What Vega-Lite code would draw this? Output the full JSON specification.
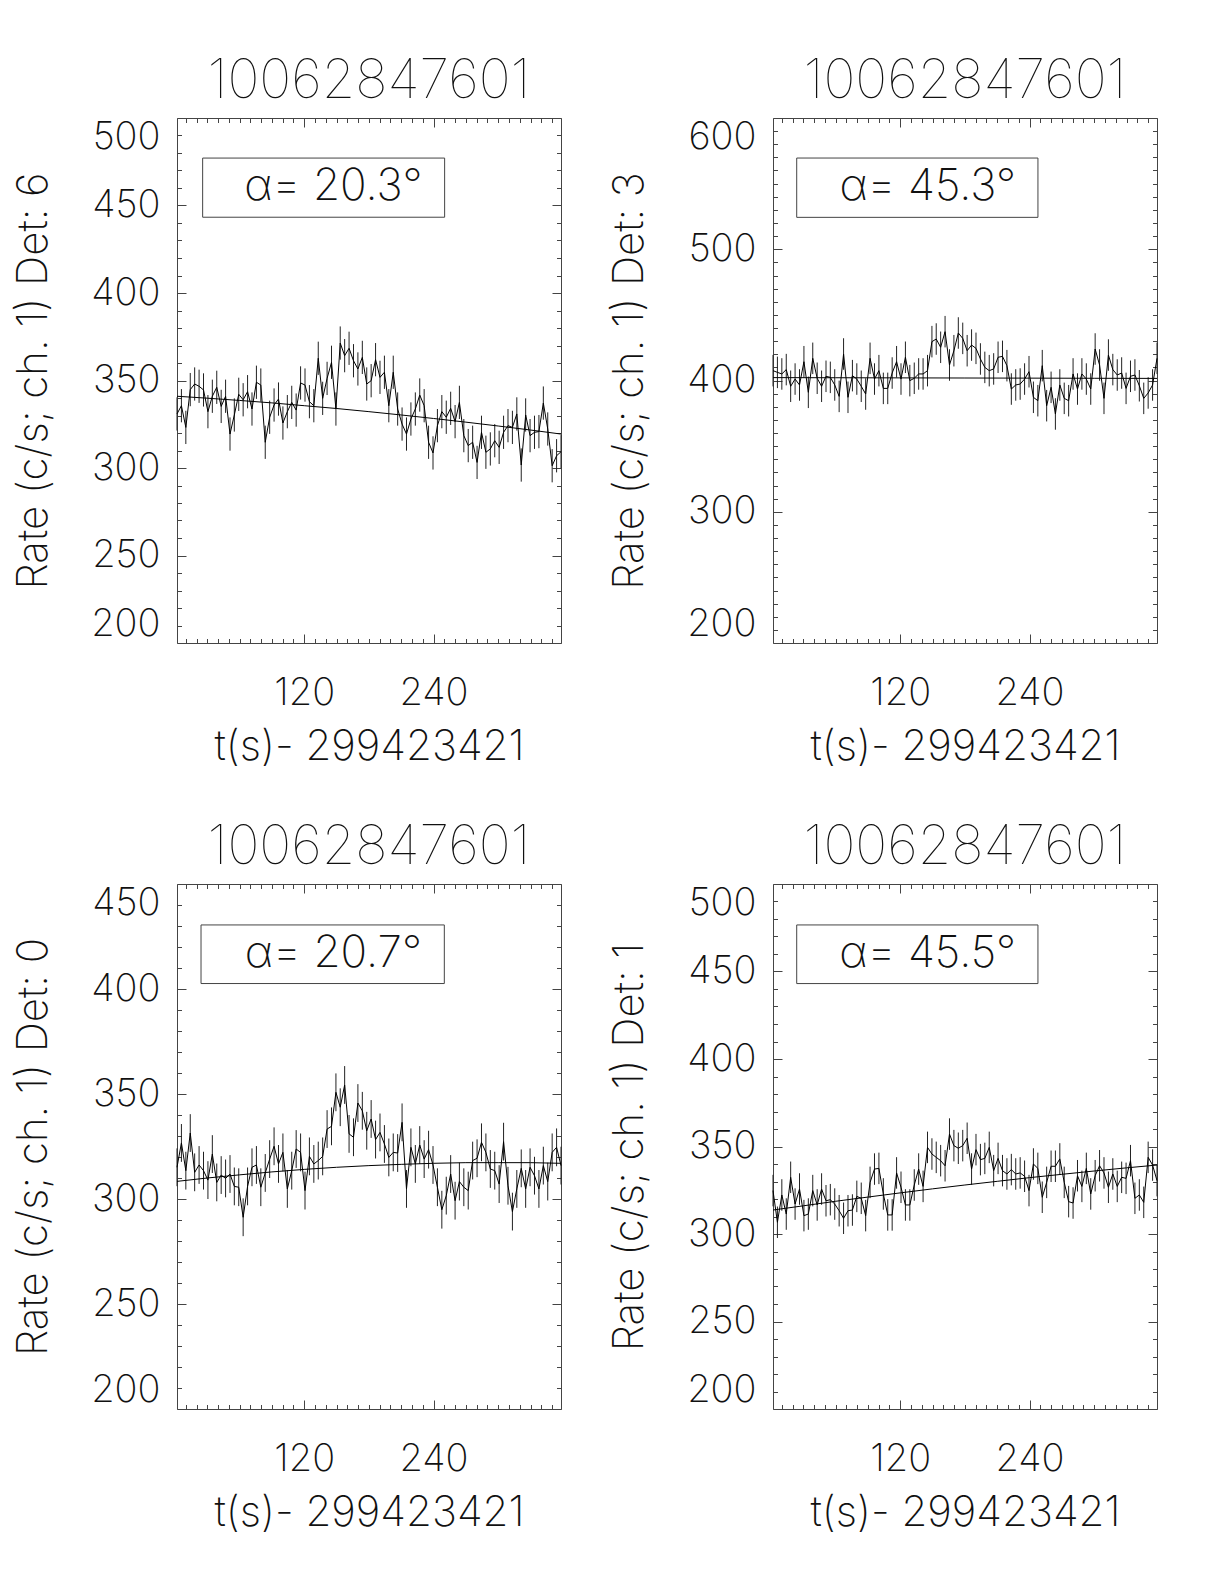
{
"$schema": "https://vega.github.io/schema/vega-lite/v6.json",
"padding": {"left": 12, "top": 54, "right": 5, "bottom": 5},
"background": "white",
"datasets": {
"lc6": [{"t":1.9,"r":330.9,"e":9.5},{"t":6.0,"r":335.6,"e":9.5},{"t":10.1,"r":323.2,"e":9.5},{"t":14.2,"r":344.8,"e":9.5},{"t":18.3,"r":348.0,"e":9.5},{"t":22.4,"r":346.7,"e":9.5},{"t":26.5,"r":344.6,"e":9.5},{"t":30.6,"r":332.2,"e":9.5},{"t":34.7,"r":341.0,"e":9.5},{"t":38.8,"r":346.1,"e":9.5},{"t":42.9,"r":335.2,"e":9.5},{"t":47.0,"r":341.0,"e":9.5},{"t":51.1,"r":319.4,"e":9.5},{"t":55.1,"r":330.3,"e":9.5},{"t":59.2,"r":342.1,"e":9.5},{"t":63.3,"r":339.0,"e":9.5},{"t":67.4,"r":343.6,"e":9.5},{"t":71.5,"r":333.7,"e":9.5},{"t":75.6,"r":349.0,"e":9.5},{"t":79.7,"r":347.4,"e":9.5},{"t":83.8,"r":314.7,"e":9.5},{"t":87.9,"r":329.0,"e":9.5},{"t":92.0,"r":336.0,"e":9.5},{"t":96.1,"r":339.4,"e":9.5},{"t":100.2,"r":325.7,"e":9.5},{"t":104.3,"r":332.2,"e":9.5},{"t":108.4,"r":337.5,"e":9.5},{"t":112.5,"r":333.1,"e":9.5},{"t":116.6,"r":348.6,"e":9.5},{"t":120.7,"r":347.4,"e":9.5},{"t":124.8,"r":337.9,"e":9.5},{"t":128.9,"r":335.6,"e":9.5},{"t":133.0,"r":362.7,"e":9.5},{"t":137.1,"r":339.8,"e":9.5},{"t":141.2,"r":351.2,"e":9.5},{"t":145.3,"r":360.4,"e":9.5},{"t":149.4,"r":333.7,"e":9.5},{"t":153.4,"r":371.4,"e":9.5},{"t":157.5,"r":364.2,"e":9.5},{"t":161.6,"r":368.4,"e":9.5},{"t":165.7,"r":361.3,"e":9.5},{"t":169.8,"r":356.6,"e":9.5},{"t":173.9,"r":363.2,"e":9.5},{"t":178.0,"r":348.0,"e":9.5},{"t":182.1,"r":349.9,"e":9.5},{"t":186.2,"r":361.9,"e":9.5},{"t":190.3,"r":351.8,"e":9.5},{"t":194.4,"r":354.7,"e":9.5},{"t":198.5,"r":335.6,"e":9.5},{"t":202.6,"r":354.7,"e":9.5},{"t":206.7,"r":333.7,"e":9.5},{"t":210.8,"r":325.1,"e":9.5},{"t":214.9,"r":319.4,"e":9.5},{"t":219.0,"r":328.0,"e":9.5},{"t":223.1,"r":333.7,"e":9.5},{"t":227.2,"r":341.7,"e":9.5},{"t":231.3,"r":335.6,"e":9.5},{"t":235.4,"r":314.7,"e":9.5},{"t":239.5,"r":308.6,"e":9.5},{"t":243.6,"r":324.2,"e":9.5},{"t":247.7,"r":332.2,"e":9.5},{"t":251.8,"r":329.0,"e":9.5},{"t":255.9,"r":334.1,"e":9.5},{"t":260.0,"r":326.5,"e":9.5},{"t":264.0,"r":337.5,"e":9.5},{"t":268.1,"r":318.5,"e":9.5},{"t":272.2,"r":312.8,"e":9.5},{"t":276.3,"r":314.7,"e":9.5},{"t":280.4,"r":303.2,"e":9.5},{"t":284.5,"r":320.4,"e":9.5},{"t":288.6,"r":309.0,"e":9.5},{"t":292.7,"r":310.9,"e":9.5},{"t":296.8,"r":315.6,"e":9.5},{"t":300.9,"r":311.8,"e":9.5},{"t":305.0,"r":320.4,"e":9.5},{"t":309.1,"r":324.2,"e":9.5},{"t":313.2,"r":323.2,"e":9.5},{"t":317.3,"r":330.9,"e":9.5},{"t":321.4,"r":301.7,"e":9.5},{"t":325.5,"r":330.3,"e":9.5},{"t":329.6,"r":318.5,"e":9.5},{"t":333.7,"r":320.4,"e":9.5},{"t":337.8,"r":320.8,"e":9.5},{"t":341.9,"r":337.1,"e":9.5},{"t":346.0,"r":322.3,"e":9.5},{"t":350.1,"r":301.3,"e":9.5},{"t":354.2,"r":307.0,"e":9.5},{"t":358.3,"r":309.3,"e":9.5}],
"lc3": [{"t":1.9,"r":407.5,"e":12},{"t":6.0,"r":406.2,"e":12},{"t":10.1,"r":405.0,"e":12},{"t":14.2,"r":408.3,"e":12},{"t":18.3,"r":395.6,"e":12},{"t":22.4,"r":401.1,"e":12},{"t":26.5,"r":396.6,"e":12},{"t":30.6,"r":414.3,"e":12},{"t":34.7,"r":391.0,"e":12},{"t":38.8,"r":416.9,"e":12},{"t":42.9,"r":401.7,"e":12},{"t":47.0,"r":395.6,"e":12},{"t":51.1,"r":403.2,"e":12},{"t":55.1,"r":402.4,"e":12},{"t":59.2,"r":396.6,"e":12},{"t":63.3,"r":387.9,"e":12},{"t":67.4,"r":420.2,"e":12},{"t":71.5,"r":387.2,"e":12},{"t":75.6,"r":403.7,"e":12},{"t":79.7,"r":401.1,"e":12},{"t":83.8,"r":395.6,"e":12},{"t":87.9,"r":389.7,"e":12},{"t":92.0,"r":416.9,"e":12},{"t":96.1,"r":401.1,"e":12},{"t":100.2,"r":407.5,"e":12},{"t":104.3,"r":394.0,"e":12},{"t":108.4,"r":394.0,"e":12},{"t":112.5,"r":405.7,"e":12},{"t":116.6,"r":414.3,"e":12},{"t":120.7,"r":401.1,"e":12},{"t":124.8,"r":417.7,"e":12},{"t":128.9,"r":399.9,"e":12},{"t":133.0,"r":401.7,"e":12},{"t":137.1,"r":405.0,"e":12},{"t":141.2,"r":405.0,"e":12},{"t":145.3,"r":407.5,"e":12},{"t":149.4,"r":429.6,"e":12},{"t":153.4,"r":431.6,"e":12},{"t":157.5,"r":425.3,"e":12},{"t":161.6,"r":437.2,"e":12},{"t":165.7,"r":411.8,"e":12},{"t":169.8,"r":422.7,"e":12},{"t":173.9,"r":436.2,"e":12},{"t":178.0,"r":432.1,"e":12},{"t":182.1,"r":422.7,"e":12},{"t":186.2,"r":427.0,"e":12},{"t":190.3,"r":424.5,"e":12},{"t":194.4,"r":416.4,"e":12},{"t":198.5,"r":410.0,"e":12},{"t":202.6,"r":407.5,"e":12},{"t":206.7,"r":408.8,"e":12},{"t":210.8,"r":417.7,"e":12},{"t":214.9,"r":418.4,"e":12},{"t":219.0,"r":411.3,"e":12},{"t":223.1,"r":393.5,"e":12},{"t":227.2,"r":396.6,"e":12},{"t":231.3,"r":397.3,"e":12},{"t":235.4,"r":401.1,"e":12},{"t":239.5,"r":406.7,"e":12},{"t":243.6,"r":387.2,"e":12},{"t":247.7,"r":384.6,"e":12},{"t":251.8,"r":411.3,"e":12},{"t":255.9,"r":380.8,"e":12},{"t":260.0,"r":394.8,"e":12},{"t":264.0,"r":374.5,"e":12},{"t":268.1,"r":396.6,"e":12},{"t":272.2,"r":386.4,"e":12},{"t":276.3,"r":384.6,"e":12},{"t":280.4,"r":405.0,"e":12},{"t":284.5,"r":393.5,"e":12},{"t":288.6,"r":405.0,"e":12},{"t":292.7,"r":401.1,"e":12},{"t":296.8,"r":393.5,"e":12},{"t":300.9,"r":424.0,"e":12},{"t":305.0,"r":411.8,"e":12},{"t":309.1,"r":386.4,"e":12},{"t":313.2,"r":419.4,"e":12},{"t":317.3,"r":408.3,"e":12},{"t":321.4,"r":404.2,"e":12},{"t":325.5,"r":405.7,"e":12},{"t":329.6,"r":394.0,"e":12},{"t":333.7,"r":403.2,"e":12},{"t":337.8,"r":404.2,"e":12},{"t":341.9,"r":396.0,"e":12},{"t":346.0,"r":386.4,"e":12},{"t":350.1,"r":390.5,"e":12},{"t":354.2,"r":396.6,"e":12},{"t":358.3,"r":416.9,"e":12}],
"lc0": [{"t":1.9,"r":315.1,"e":9},{"t":6.0,"r":326.7,"e":9},{"t":10.1,"r":313.5,"e":9},{"t":14.2,"r":331.4,"e":9},{"t":18.3,"r":312.7,"e":9},{"t":22.4,"r":316.2,"e":9},{"t":26.5,"r":313.5,"e":9},{"t":30.6,"r":309.0,"e":9},{"t":34.7,"r":321.4,"e":9},{"t":38.8,"r":307.9,"e":9},{"t":42.9,"r":311.4,"e":9},{"t":47.0,"r":309.8,"e":9},{"t":51.1,"r":311.9,"e":9},{"t":55.1,"r":306.0,"e":9},{"t":59.2,"r":305.6,"e":9},{"t":63.3,"r":291.3,"e":9},{"t":67.4,"r":306.0,"e":9},{"t":71.5,"r":315.1,"e":9},{"t":75.6,"r":316.2,"e":9},{"t":79.7,"r":305.6,"e":9},{"t":83.8,"r":312.4,"e":9},{"t":87.9,"r":319.0,"e":9},{"t":92.0,"r":325.1,"e":9},{"t":96.1,"r":316.7,"e":9},{"t":100.2,"r":322.2,"e":9},{"t":104.3,"r":304.8,"e":9},{"t":108.4,"r":313.5,"e":9},{"t":112.5,"r":323.8,"e":9},{"t":116.6,"r":322.2,"e":9},{"t":120.7,"r":304.0,"e":9},{"t":124.8,"r":320.3,"e":9},{"t":128.9,"r":316.7,"e":9},{"t":133.0,"r":318.3,"e":9},{"t":137.1,"r":320.3,"e":9},{"t":141.2,"r":333.3,"e":9},{"t":145.3,"r":334.6,"e":9},{"t":149.4,"r":350.8,"e":9},{"t":153.4,"r":343.7,"e":9},{"t":157.5,"r":354.3,"e":9},{"t":161.6,"r":331.0,"e":9},{"t":165.7,"r":329.4,"e":9},{"t":169.8,"r":345.7,"e":9},{"t":173.9,"r":342.0,"e":9},{"t":178.0,"r":332.5,"e":9},{"t":182.1,"r":338.1,"e":9},{"t":186.2,"r":328.3,"e":9},{"t":190.3,"r":331.7,"e":9},{"t":194.4,"r":326.2,"e":9},{"t":198.5,"r":319.8,"e":9},{"t":202.6,"r":322.2,"e":9},{"t":206.7,"r":321.9,"e":9},{"t":210.8,"r":336.5,"e":9},{"t":214.9,"r":304.8,"e":9},{"t":219.0,"r":324.6,"e":9},{"t":223.1,"r":316.7,"e":9},{"t":227.2,"r":325.7,"e":9},{"t":231.3,"r":319.0,"e":9},{"t":235.4,"r":323.5,"e":9},{"t":239.5,"r":316.2,"e":9},{"t":243.6,"r":305.6,"e":9},{"t":247.7,"r":294.9,"e":9},{"t":251.8,"r":301.6,"e":9},{"t":255.9,"r":311.9,"e":9},{"t":260.0,"r":299.2,"e":9},{"t":264.0,"r":308.3,"e":9},{"t":268.1,"r":305.6,"e":9},{"t":272.2,"r":304.0,"e":9},{"t":276.3,"r":318.3,"e":9},{"t":280.4,"r":319.4,"e":9},{"t":284.5,"r":327.0,"e":9},{"t":288.6,"r":322.2,"e":9},{"t":292.7,"r":314.3,"e":9},{"t":296.8,"r":313.5,"e":9},{"t":300.9,"r":307.1,"e":9},{"t":305.0,"r":327.3,"e":9},{"t":309.1,"r":306.3,"e":9},{"t":313.2,"r":294.0,"e":9},{"t":317.3,"r":304.8,"e":9},{"t":321.4,"r":314.6,"e":9},{"t":325.5,"r":304.8,"e":9},{"t":329.6,"r":315.1,"e":9},{"t":333.7,"r":311.1,"e":9},{"t":337.8,"r":304.8,"e":9},{"t":341.9,"r":315.9,"e":9},{"t":346.0,"r":308.3,"e":9},{"t":350.1,"r":322.2,"e":9},{"t":354.2,"r":324.6,"e":9},{"t":358.3,"r":315.9,"e":9}],
"lc1": [{"t":1.9,"r":324.8,"e":9},{"t":6.0,"r":306.7,"e":9},{"t":10.1,"r":322.3,"e":9},{"t":14.2,"r":311.4,"e":9},{"t":18.3,"r":332.4,"e":9},{"t":22.4,"r":317.1,"e":9},{"t":26.5,"r":325.7,"e":9},{"t":30.6,"r":310.5,"e":9},{"t":34.7,"r":311.4,"e":9},{"t":38.8,"r":324.8,"e":9},{"t":42.9,"r":316.6,"e":9},{"t":47.0,"r":325.7,"e":9},{"t":51.1,"r":319.0,"e":9},{"t":55.1,"r":319.6,"e":9},{"t":59.2,"r":317.1,"e":9},{"t":63.3,"r":313.3,"e":9},{"t":67.4,"r":309.0,"e":9},{"t":71.5,"r":313.3,"e":9},{"t":75.6,"r":313.7,"e":9},{"t":79.7,"r":321.5,"e":9},{"t":83.8,"r":320.4,"e":9},{"t":87.9,"r":310.5,"e":9},{"t":92.0,"r":329.5,"e":9},{"t":96.1,"r":337.1,"e":9},{"t":100.2,"r":337.5,"e":9},{"t":104.3,"r":322.9,"e":9},{"t":108.4,"r":310.9,"e":9},{"t":112.5,"r":310.9,"e":9},{"t":116.6,"r":334.9,"e":9},{"t":120.7,"r":326.7,"e":9},{"t":124.8,"r":316.6,"e":9},{"t":128.9,"r":316.6,"e":9},{"t":133.0,"r":328.0,"e":9},{"t":137.1,"r":337.1,"e":9},{"t":141.2,"r":327.2,"e":9},{"t":145.3,"r":349.5,"e":9},{"t":149.4,"r":345.7,"e":9},{"t":153.4,"r":343.8,"e":9},{"t":157.5,"r":341.9,"e":9},{"t":161.6,"r":339.0,"e":9},{"t":165.7,"r":357.1,"e":9},{"t":169.8,"r":350.5,"e":9},{"t":173.9,"r":349.0,"e":9},{"t":178.0,"r":350.5,"e":9},{"t":182.1,"r":354.7,"e":9},{"t":186.2,"r":337.1,"e":9},{"t":190.3,"r":348.2,"e":9},{"t":194.4,"r":342.5,"e":9},{"t":198.5,"r":343.2,"e":9},{"t":202.6,"r":349.5,"e":9},{"t":206.7,"r":336.2,"e":9},{"t":210.8,"r":343.2,"e":9},{"t":214.9,"r":336.2,"e":9},{"t":219.0,"r":334.3,"e":9},{"t":223.1,"r":336.8,"e":9},{"t":227.2,"r":334.3,"e":9},{"t":231.3,"r":334.9,"e":9},{"t":235.4,"r":333.0,"e":9},{"t":239.5,"r":324.8,"e":9},{"t":243.6,"r":340.0,"e":9},{"t":247.7,"r":337.5,"e":9},{"t":251.8,"r":321.0,"e":9},{"t":255.9,"r":329.5,"e":9},{"t":260.0,"r":338.7,"e":9},{"t":264.0,"r":338.7,"e":9},{"t":268.1,"r":342.9,"e":9},{"t":272.2,"r":329.5,"e":9},{"t":276.3,"r":318.5,"e":9},{"t":280.4,"r":317.7,"e":9},{"t":284.5,"r":333.3,"e":9},{"t":288.6,"r":327.2,"e":9},{"t":292.7,"r":337.5,"e":9},{"t":296.8,"r":322.9,"e":9},{"t":300.9,"r":333.3,"e":9},{"t":305.0,"r":339.0,"e":9},{"t":309.1,"r":334.9,"e":9},{"t":313.2,"r":326.7,"e":9},{"t":317.3,"r":334.3,"e":9},{"t":321.4,"r":327.2,"e":9},{"t":325.5,"r":332.4,"e":9},{"t":329.6,"r":331.8,"e":9},{"t":333.7,"r":341.9,"e":9},{"t":337.8,"r":320.4,"e":9},{"t":341.9,"r":322.3,"e":9},{"t":346.0,"r":318.1,"e":9},{"t":350.1,"r":343.8,"e":9},{"t":354.2,"r":339.4,"e":9},{"t":358.3,"r":330.5,"e":9}],
"fit6": [{"t":1.9,"r":341.0},{"t":30,"r":339.9},{"t":60,"r":338.6},{"t":90,"r":337.2},{"t":120,"r":335.6},{"t":150,"r":334.0},{"t":180,"r":332.2},{"t":210,"r":330.3},{"t":240,"r":328.3},{"t":270,"r":326.2},{"t":300,"r":324.0},{"t":330,"r":321.7},{"t":358.3,"r":319.4}],
"fit3": [{"t":1.9,"r":402.2},{"t":60,"r":402.1},{"t":120,"r":402.0},{"t":180,"r":401.9},{"t":240,"r":401.8},{"t":300,"r":401.7},{"t":358.3,"r":401.6}],
"fit0": [{"t":1.9,"r":308.4},{"t":30,"r":310.0},{"t":60,"r":311.5},{"t":90,"r":312.9},{"t":120,"r":314.1},{"t":150,"r":315.1},{"t":180,"r":315.9},{"t":210,"r":316.5},{"t":240,"r":317.0},{"t":270,"r":317.3},{"t":300,"r":317.3},{"t":330,"r":317.3},{"t":358.3,"r":317.0}],
"fit1": [{"t":1.9,"r":313.7},{"t":30,"r":316.1},{"t":60,"r":318.7},{"t":90,"r":321.1},{"t":120,"r":323.5},{"t":150,"r":325.8},{"t":180,"r":328.0},{"t":210,"r":330.1},{"t":240,"r":332.2},{"t":270,"r":334.1},{"t":300,"r":336.0},{"t":330,"r":337.8},{"t":358.3,"r":339.4}],
"box6": [{"x1":25.7,"x2":250.3,"y1":443.3,"y2":477.1,"tx":147.0,"ty":460.6,"lab":"α= 20.3°"}],
"box3": [{"x1":23.9,"x2":247.8,"y1":524.3,"y2":569.5,"tx":145.5,"ty":547.4,"lab":"α= 45.3°"}],
"box0": [{"x1":24.2,"x2":250.0,"y1":402.6,"y2":430.5,"tx":147.0,"ty":416.7,"lab":"α= 20.7°"}],
"box1": [{"x1":23.9,"x2":247.8,"y1":443.1,"y2":476.6,"tx":145.5,"ty":460.0,"lab":"α= 45.5°"}]
},
"columns": 2,
"spacing": {"row": 241, "column": 212},
"bounds": "flush",
"concat": [
{
"width": 384, "height": 525,
"title": {"text": "10062847601"},
"resolve": {"axis": {"x": "independent", "y": "independent"}},
"layer": [
{"data": {"name": "lc6"}, "mark": {"type": "errorbar", "color": "#222", "thickness": 1},
 "encoding": {
  "x": {"field": "t", "type": "quantitative", "scale": {"domain": [1.9, 358.3], "nice": false, "zero": false}, "axis": {"orient": "bottom", "values": [120, 240], "ticks": false, "labelPadding": 31, "title": "t(s)- 299423421", "titlePadding": 14}},
  "y": {"field": "r", "type": "quantitative", "scale": {"domain": [200, 500], "nice": false, "zero": false}, "axis": {"orient": "left", "values": [200, 250, 300, 350, 400, 450, 500], "ticks": false, "labelPadding": 17, "labelFlush": true, "title": "Rate (c/s; ch. 1) Det: 6", "titlePadding": 35}},
  "yError": {"field": "e"}}},
{"data": {"name": "lc6"}, "mark": {"type": "line", "color": "#000", "strokeWidth": 1},
 "encoding": {
  "x": {"field": "t", "type": "quantitative", "scale": {"domain": [1.9, 358.3], "nice": false, "zero": false}, "axis": {"orient": "bottom", "values": [120, 240], "tickSize": -9, "labels": false, "title": null}},
  "y": {"field": "r", "type": "quantitative", "scale": {"domain": [200, 500], "nice": false, "zero": false}, "axis": {"orient": "left", "values": [200, 250, 300, 350, 400, 450, 500], "tickSize": -9, "labels": false, "title": null}}}},
{"data": {"name": "fit6"}, "mark": {"type": "line", "color": "#000", "strokeWidth": 1},
 "encoding": {
  "x": {"field": "t", "type": "quantitative", "scale": {"domain": [1.9, 358.3], "nice": false, "zero": false}, "axis": {"orient": "bottom", "values": [10,20,30,40,50,60,70,80,90,100,110,130,140,150,160,170,180,190,200,210,220,230,250,260,270,280,290,300,310,320,330,340,350], "tickSize": -4.5, "labels": false, "title": null}},
  "y": {"field": "r", "type": "quantitative", "scale": {"domain": [200, 500], "nice": false, "zero": false}, "axis": {"orient": "left", "values": [210,220,230,240,260,270,280,290,310,320,330,340,360,370,380,390,410,420,430,440,460,470,480,490], "tickSize": -4.5, "labels": false, "title": null}}}},
{"data": {"name": "box6"}, "mark": {"type": "rect", "filled": false, "stroke": "#444", "strokeWidth": 1},
 "encoding": {
  "x": {"field": "x1", "type": "quantitative", "scale": {"domain": [1.9, 358.3], "nice": false, "zero": false}, "axis": {"orient": "top", "values": [120, 240], "tickSize": -9, "labels": false, "title": null}},
  "x2": {"field": "x2"},
  "y": {"field": "y1", "type": "quantitative", "scale": {"domain": [200, 500], "nice": false, "zero": false}, "axis": {"orient": "right", "values": [200, 250, 300, 350, 400, 450, 500], "tickSize": -9, "labels": false, "title": null}},
  "y2": {"field": "y2"}}},
{"data": {"name": "box6"}, "mark": {"type": "text"},
 "encoding": {
  "x": {"field": "tx", "type": "quantitative", "scale": {"domain": [1.9, 358.3], "nice": false, "zero": false}, "axis": {"orient": "top", "values": [10,20,30,40,50,60,70,80,90,100,110,130,140,150,160,170,180,190,200,210,220,230,250,260,270,280,290,300,310,320,330,340,350], "tickSize": -4.5, "labels": false, "title": null}},
  "y": {"field": "ty", "type": "quantitative", "scale": {"domain": [200, 500], "nice": false, "zero": false}, "axis": {"orient": "right", "values": [210,220,230,240,260,270,280,290,310,320,330,340,360,370,380,390,410,420,430,440,460,470,480,490], "tickSize": -4.5, "labels": false, "title": null}},
  "text": {"field": "lab"}}}
]
},
{
"width": 384, "height": 525,
"title": {"text": "10062847601"},
"resolve": {"axis": {"x": "independent", "y": "independent"}},
"layer": [
{"data": {"name": "lc3"}, "mark": {"type": "errorbar", "color": "#222", "thickness": 1},
 "encoding": {
  "x": {"field": "t", "type": "quantitative", "scale": {"domain": [1.9, 358.3], "nice": false, "zero": false}, "axis": {"orient": "bottom", "values": [120, 240], "ticks": false, "labelPadding": 31, "title": "t(s)- 299423421", "titlePadding": 14}},
  "y": {"field": "r", "type": "quantitative", "scale": {"domain": [200, 600], "nice": false, "zero": false}, "axis": {"orient": "left", "values": [200, 300, 400, 500, 600], "ticks": false, "labelPadding": 17, "labelFlush": true, "title": "Rate (c/s; ch. 1) Det: 3", "titlePadding": 35}},
  "yError": {"field": "e"}}},
{"data": {"name": "lc3"}, "mark": {"type": "line", "color": "#000", "strokeWidth": 1},
 "encoding": {
  "x": {"field": "t", "type": "quantitative", "scale": {"domain": [1.9, 358.3], "nice": false, "zero": false}, "axis": {"orient": "bottom", "values": [120, 240], "tickSize": -9, "labels": false, "title": null}},
  "y": {"field": "r", "type": "quantitative", "scale": {"domain": [200, 600], "nice": false, "zero": false}, "axis": {"orient": "left", "values": [200, 300, 400, 500, 600], "tickSize": -9, "labels": false, "title": null}}}},
{"data": {"name": "fit3"}, "mark": {"type": "line", "color": "#000", "strokeWidth": 1},
 "encoding": {
  "x": {"field": "t", "type": "quantitative", "scale": {"domain": [1.9, 358.3], "nice": false, "zero": false}, "axis": {"orient": "bottom", "values": [10,20,30,40,50,60,70,80,90,100,110,130,140,150,160,170,180,190,200,210,220,230,250,260,270,280,290,300,310,320,330,340,350], "tickSize": -4.5, "labels": false, "title": null}},
  "y": {"field": "r", "type": "quantitative", "scale": {"domain": [200, 600], "nice": false, "zero": false}, "axis": {"orient": "left", "values": [210,220,230,240,250,260,270,280,290,310,320,330,340,350,360,370,380,390,410,420,430,440,450,460,470,480,490,510,520,530,540,550,560,570,580,590], "tickSize": -4.5, "labels": false, "title": null}}}},
{"data": {"name": "box3"}, "mark": {"type": "rect", "filled": false, "stroke": "#444", "strokeWidth": 1},
 "encoding": {
  "x": {"field": "x1", "type": "quantitative", "scale": {"domain": [1.9, 358.3], "nice": false, "zero": false}, "axis": {"orient": "top", "values": [120, 240], "tickSize": -9, "labels": false, "title": null}},
  "x2": {"field": "x2"},
  "y": {"field": "y1", "type": "quantitative", "scale": {"domain": [200, 600], "nice": false, "zero": false}, "axis": {"orient": "right", "values": [200, 300, 400, 500, 600], "tickSize": -9, "labels": false, "title": null}},
  "y2": {"field": "y2"}}},
{"data": {"name": "box3"}, "mark": {"type": "text"},
 "encoding": {
  "x": {"field": "tx", "type": "quantitative", "scale": {"domain": [1.9, 358.3], "nice": false, "zero": false}, "axis": {"orient": "top", "values": [10,20,30,40,50,60,70,80,90,100,110,130,140,150,160,170,180,190,200,210,220,230,250,260,270,280,290,300,310,320,330,340,350], "tickSize": -4.5, "labels": false, "title": null}},
  "y": {"field": "ty", "type": "quantitative", "scale": {"domain": [200, 600], "nice": false, "zero": false}, "axis": {"orient": "right", "values": [210,220,230,240,250,260,270,280,290,310,320,330,340,350,360,370,380,390,410,420,430,440,450,460,470,480,490,510,520,530,540,550,560,570,580,590], "tickSize": -4.5, "labels": false, "title": null}},
  "text": {"field": "lab"}}}
]
},
{
"width": 384, "height": 525,
"title": {"text": "10062847601"},
"resolve": {"axis": {"x": "independent", "y": "independent"}},
"layer": [
{"data": {"name": "lc0"}, "mark": {"type": "errorbar", "color": "#222", "thickness": 1},
 "encoding": {
  "x": {"field": "t", "type": "quantitative", "scale": {"domain": [1.9, 358.3], "nice": false, "zero": false}, "axis": {"orient": "bottom", "values": [120, 240], "ticks": false, "labelPadding": 31, "title": "t(s)- 299423421", "titlePadding": 14}},
  "y": {"field": "r", "type": "quantitative", "scale": {"domain": [200, 450], "nice": false, "zero": false}, "axis": {"orient": "left", "values": [200, 250, 300, 350, 400, 450], "ticks": false, "labelPadding": 17, "labelFlush": true, "title": "Rate (c/s; ch. 1) Det: 0", "titlePadding": 35}},
  "yError": {"field": "e"}}},
{"data": {"name": "lc0"}, "mark": {"type": "line", "color": "#000", "strokeWidth": 1},
 "encoding": {
  "x": {"field": "t", "type": "quantitative", "scale": {"domain": [1.9, 358.3], "nice": false, "zero": false}, "axis": {"orient": "bottom", "values": [120, 240], "tickSize": -9, "labels": false, "title": null}},
  "y": {"field": "r", "type": "quantitative", "scale": {"domain": [200, 450], "nice": false, "zero": false}, "axis": {"orient": "left", "values": [200, 250, 300, 350, 400, 450], "tickSize": -9, "labels": false, "title": null}}}},
{"data": {"name": "fit0"}, "mark": {"type": "line", "color": "#000", "strokeWidth": 1},
 "encoding": {
  "x": {"field": "t", "type": "quantitative", "scale": {"domain": [1.9, 358.3], "nice": false, "zero": false}, "axis": {"orient": "bottom", "values": [10,20,30,40,50,60,70,80,90,100,110,130,140,150,160,170,180,190,200,210,220,230,250,260,270,280,290,300,310,320,330,340,350], "tickSize": -4.5, "labels": false, "title": null}},
  "y": {"field": "r", "type": "quantitative", "scale": {"domain": [200, 450], "nice": false, "zero": false}, "axis": {"orient": "left", "values": [210,220,230,240,260,270,280,290,310,320,330,340,360,370,380,390,410,420,430,440], "tickSize": -4.5, "labels": false, "title": null}}}},
{"data": {"name": "box0"}, "mark": {"type": "rect", "filled": false, "stroke": "#444", "strokeWidth": 1},
 "encoding": {
  "x": {"field": "x1", "type": "quantitative", "scale": {"domain": [1.9, 358.3], "nice": false, "zero": false}, "axis": {"orient": "top", "values": [120, 240], "tickSize": -9, "labels": false, "title": null}},
  "x2": {"field": "x2"},
  "y": {"field": "y1", "type": "quantitative", "scale": {"domain": [200, 450], "nice": false, "zero": false}, "axis": {"orient": "right", "values": [200, 250, 300, 350, 400, 450], "tickSize": -9, "labels": false, "title": null}},
  "y2": {"field": "y2"}}},
{"data": {"name": "box0"}, "mark": {"type": "text"},
 "encoding": {
  "x": {"field": "tx", "type": "quantitative", "scale": {"domain": [1.9, 358.3], "nice": false, "zero": false}, "axis": {"orient": "top", "values": [10,20,30,40,50,60,70,80,90,100,110,130,140,150,160,170,180,190,200,210,220,230,250,260,270,280,290,300,310,320,330,340,350], "tickSize": -4.5, "labels": false, "title": null}},
  "y": {"field": "ty", "type": "quantitative", "scale": {"domain": [200, 450], "nice": false, "zero": false}, "axis": {"orient": "right", "values": [210,220,230,240,260,270,280,290,310,320,330,340,360,370,380,390,410,420,430,440], "tickSize": -4.5, "labels": false, "title": null}},
  "text": {"field": "lab"}}}
]
},
{
"width": 384, "height": 525,
"title": {"text": "10062847601"},
"resolve": {"axis": {"x": "independent", "y": "independent"}},
"layer": [
{"data": {"name": "lc1"}, "mark": {"type": "errorbar", "color": "#222", "thickness": 1},
 "encoding": {
  "x": {"field": "t", "type": "quantitative", "scale": {"domain": [1.9, 358.3], "nice": false, "zero": false}, "axis": {"orient": "bottom", "values": [120, 240], "ticks": false, "labelPadding": 31, "title": "t(s)- 299423421", "titlePadding": 14}},
  "y": {"field": "r", "type": "quantitative", "scale": {"domain": [200, 500], "nice": false, "zero": false}, "axis": {"orient": "left", "values": [200, 250, 300, 350, 400, 450, 500], "ticks": false, "labelPadding": 17, "labelFlush": true, "title": "Rate (c/s; ch. 1) Det: 1", "titlePadding": 35}},
  "yError": {"field": "e"}}},
{"data": {"name": "lc1"}, "mark": {"type": "line", "color": "#000", "strokeWidth": 1},
 "encoding": {
  "x": {"field": "t", "type": "quantitative", "scale": {"domain": [1.9, 358.3], "nice": false, "zero": false}, "axis": {"orient": "bottom", "values": [120, 240], "tickSize": -9, "labels": false, "title": null}},
  "y": {"field": "r", "type": "quantitative", "scale": {"domain": [200, 500], "nice": false, "zero": false}, "axis": {"orient": "left", "values": [200, 250, 300, 350, 400, 450, 500], "tickSize": -9, "labels": false, "title": null}}}},
{"data": {"name": "fit1"}, "mark": {"type": "line", "color": "#000", "strokeWidth": 1},
 "encoding": {
  "x": {"field": "t", "type": "quantitative", "scale": {"domain": [1.9, 358.3], "nice": false, "zero": false}, "axis": {"orient": "bottom", "values": [10,20,30,40,50,60,70,80,90,100,110,130,140,150,160,170,180,190,200,210,220,230,250,260,270,280,290,300,310,320,330,340,350], "tickSize": -4.5, "labels": false, "title": null}},
  "y": {"field": "r", "type": "quantitative", "scale": {"domain": [200, 500], "nice": false, "zero": false}, "axis": {"orient": "left", "values": [210,220,230,240,260,270,280,290,310,320,330,340,360,370,380,390,410,420,430,440,460,470,480,490], "tickSize": -4.5, "labels": false, "title": null}}}},
{"data": {"name": "box1"}, "mark": {"type": "rect", "filled": false, "stroke": "#444", "strokeWidth": 1},
 "encoding": {
  "x": {"field": "x1", "type": "quantitative", "scale": {"domain": [1.9, 358.3], "nice": false, "zero": false}, "axis": {"orient": "top", "values": [120, 240], "tickSize": -9, "labels": false, "title": null}},
  "x2": {"field": "x2"},
  "y": {"field": "y1", "type": "quantitative", "scale": {"domain": [200, 500], "nice": false, "zero": false}, "axis": {"orient": "right", "values": [200, 250, 300, 350, 400, 450, 500], "tickSize": -9, "labels": false, "title": null}},
  "y2": {"field": "y2"}}},
{"data": {"name": "box1"}, "mark": {"type": "text"},
 "encoding": {
  "x": {"field": "tx", "type": "quantitative", "scale": {"domain": [1.9, 358.3], "nice": false, "zero": false}, "axis": {"orient": "top", "values": [10,20,30,40,50,60,70,80,90,100,110,130,140,150,160,170,180,190,200,210,220,230,250,260,270,280,290,300,310,320,330,340,350], "tickSize": -4.5, "labels": false, "title": null}},
  "y": {"field": "ty", "type": "quantitative", "scale": {"domain": [200, 500], "nice": false, "zero": false}, "axis": {"orient": "right", "values": [210,220,230,240,260,270,280,290,310,320,330,340,360,370,380,390,410,420,430,440,460,470,480,490], "tickSize": -4.5, "labels": false, "title": null}},
  "text": {"field": "lab"}}}
]
}
],
"config": {
 "view": {"stroke": "#444", "strokeWidth": 1},
 "title": {"frame": "group", "anchor": "middle", "fontSize": 54, "font": "Inter", "fontWeight": 100, "color": "#111", "offset": 9, "baseline": "alphabetic"},
 "text": {"font": "Inter", "fontWeight": 200, "fontSize": 44, "color": "#111", "align": "center", "baseline": "middle"},
 "axis": {"grid": false, "domain": false, "labelFont": "Inter", "labelFontSize": 38, "labelFontWeight": 200, "labelColor": "#111", "titleFont": "Inter", "titleFontSize": 42, "titleFontWeight": 200, "titleColor": "#111", "tickColor": "#444", "tickWidth": 1, "labelOverlap": false}
}
}
